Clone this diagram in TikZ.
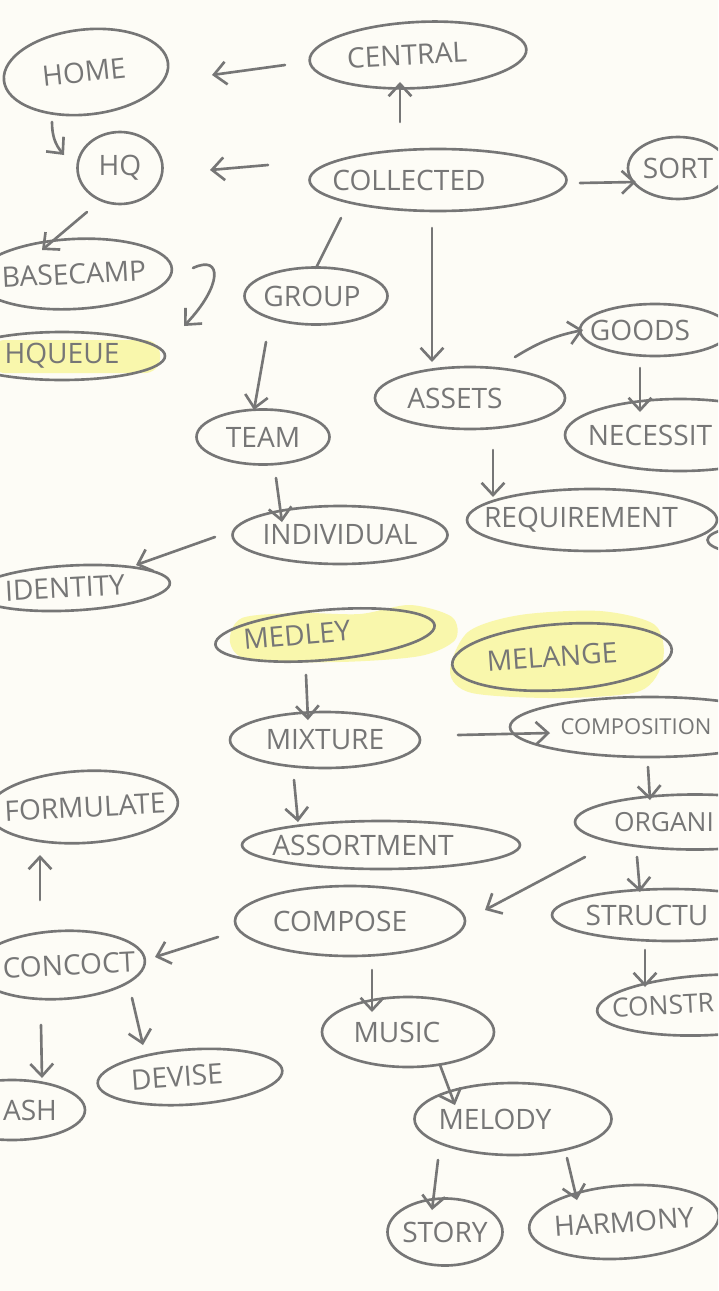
\documentclass[tikz,border=0pt]{standalone}
\usepackage{fontspec}
\setmainfont{Open Sans}
\usepackage{tikz}
\usetikzlibrary{arrows.meta,shapes.geometric}
\definecolor{pen}{RGB}{118,118,118}
\definecolor{paper}{RGB}{253,252,246}
\definecolor{marker}{RGB}{249,247,172}
\tikzset{
	bubble/.style={draw=pen, ellipse, line width=1.5pt, inner sep=0pt},
	word/.style={text=pen, inner sep=0pt, font=\fontsize{16}{16}\selectfont},
	sz/.style 2 args={minimum width=#1*0.02cm, minimum height=#2*0.02cm},
	arr/.style={draw=pen, line width=1.5pt, line cap=round, -{Straight Barb[length=7pt,width=13pt]}},
	tie/.style={draw=pen, line width=1.5pt, line cap=round},
}

\begin{document}
\begin{tikzpicture}[x=0.02cm, y=-0.02cm]
			\useasboundingbox (0,0) rectangle (718,1291);
			\fill[paper] (0,0) rectangle (718,1291);
			\clip (0,0) rectangle (718,1291);
			\fill[marker, rounded corners=0.3cm] (-10,340) rectangle (160,373);
			\fill[marker] plot[smooth cycle] coordinates {(230,642) (242,618) (300,613) (360,614) (410,605) (452,617) (455,640) (420,656) (340,662) (250,660)};
			\fill[marker] plot[smooth cycle] coordinates {(450,672) (468,632) (520,615) (600,611) (655,625) (663,660) (640,691) (560,698) (472,693)};
			\foreach \name/\x/\y/\w/\h/\r/\dx/\txt in {
				home/86/72/165/85/6/-2/HOME,
				central/418/55/217/66/3/-11/CENTRAL,
				hq/120/168/85/72/0/0/HQ,
				collected/438/180/257/62/0/-29/COLLECTED,
				sort/678/168/100/62/0/0/SORT,
				basecamp/74/274/196/70/3/0/BASECAMP,
				group/316/296/143/57/0/-4/GROUP,
				hqueue/62/356/206/48/0/0/HQUEUE,
				goods/655/330/150/52/0/-15/GOODS,
				assets/470/398/190/62/0/-15/ASSETS,
				necessity/680/435/230/72/0/-30/NECESSIT,
				team/263/437/133/55/0/0/TEAM,
				requirement/592/520/250/62/0/-11/REQUIREMENT,
				individual/340/535/215/58/0/0/INDIVIDUAL,
				identity/72/588/196/45/3/-7/IDENTITY,
				medley/325/635/220/50/5/-28/MEDLEY,
				melange/562/657/220/66/4/-10/MELANGE,
				mixture/325/740/190/56/0/0/MIXTURE,
				composition/650/727/280/60/0/-14/{\fontsize{12.5}{12.5}\selectfont COMPOSITION},
				formulate/83/807/190/72/3/2/FORMULATE,
				assortment/381/845/278/48/0/-18/ASSORTMENT,
				organize/695/822/240/55/0/-31/{\fontsize{15}{15}\selectfont ORGANI},
				compose/350/921/230/70/0/-10/COMPOSE,
				structure/671/915/238/52/0/-24/STRUCTU,
				concoct/60/965/170/68/3/9/CONCOCT,
				construct/711/1005/228/60/3/-48/{\fontsize{15}{15}\selectfont CONSTR},
				music/408/1032/172/70/0/-11/MUSIC,
				devise/190/1077/185/55/4/-13/DEVISE,
				mash/12/1110/146/60/0/18/ASH,
				melody/513/1119/197/72/0/-18/MELODY,
				story/445/1232/115/67/0/0/STORY,
				harmony/624/1222/190/73/4/0/HARMONY} {
				\node[bubble, sz={\w}{\h}, rotate=\r] (\name) at (\x,\y) {};
				\node[word, rotate=\r] (\name-t) at ([shift={(\dx,0)}]\name.center) {\txt};
			}
			\node[bubble, sz={115}{30}] (edge) at (765,540) {};
			\draw[arr] ([shift={(-133,10)}]central.center) -- ([shift={(126,3)}]home.center);
			\draw[arr] ([shift={(-38,-58)}]collected.center) -- ([shift={(-18,27)}]central.center);
			\draw[arr] ([shift={(-170,-15)}]collected.center) -- ([shift={(90,2)}]hq.center);
			\draw[arr] ([shift={(142,3)}]collected.center) -- ([shift={(-42,14)}]sort.center);
			\draw[arr] ([shift={(-34,50)}]home.center) to[bend right=20] ([shift={(-56,-13)}]hq.center);
			\draw[arr] ([shift={(-33,44)}]hq.center) -- ([shift={(-32,-24)}]basecamp.center);
			\draw[arr] ([shift={(119,-6)}]basecamp.center) .. controls +(30,-14) and +(38,-40) .. ([shift={(122,-30)}]hqueue.center);
			\draw[tie] ([shift={(-97,38)}]collected.center) -- ([shift={(0,-28)}]group.center);
			\draw[arr] ([shift={(-50,46)}]group.center) -- ([shift={(-9,-27)}]team.center);
			\draw[arr] ([shift={(-6,48)}]collected.center) -- ([shift={(-38,-36)}]assets.center);
			\draw[arr] ([shift={(45,-41)}]assets.center) to[bend left=10] ([shift={(-72,0)}]goods.center);
			\draw[arr] ([shift={(-15,38)}]goods.center) -- ([shift={(-40,-23)}]necessity.center);
			\draw[arr] ([shift={(23,52)}]assets.center) -- ([shift={(-99,-23)}]requirement.center);
			\draw[arr] ([shift={(13,41)}]team.center) -- ([shift={(-58,-13)}]individual.center);
			\draw[arr] ([shift={(-125,2)}]individual.center) -- ([shift={(64,-23)}]identity.center);
			\draw[arr] ([shift={(-19,40)}]medley.center) -- ([shift={(-17,-20)}]mixture.center);
			\draw[arr] ([shift={(133,-5)}]mixture.center) -- ([shift={(-100,6)}]composition.center);
			\draw[arr] ([shift={(-31,40)}]mixture.center) -- ([shift={(-83,-23)}]assortment.center);
			\draw[arr] ([shift={(-2,40)}]composition.center) -- ([shift={(-45,-22)}]organize.center);
			\draw[arr] ([shift={(-110,35)}]organize.center) -- ([shift={(135,-11)}]compose.center);
			\draw[arr] ([shift={(-58,35)}]organize.center) -- ([shift={(-31,-23)}]structure.center);
			\draw[arr] ([shift={(-26,35)}]structure.center) -- ([shift={(-66,-18)}]construct.center);
			\draw[arr] ([shift={(-132,16)}]compose.center) -- ([shift={(95,-8)}]concoct.center);
			\draw[arr] ([shift={(-20,-65)}]concoct.center) -- ([shift={(-43,48)}]formulate.center);
			\draw[arr] ([shift={(-19,60)}]concoct.center) -- ([shift={(30,-32)}]mash.center);
			\draw[arr] ([shift={(72,33)}]concoct.center) -- ([shift={(-47,-32)}]devise.center);
			\draw[arr] ([shift={(22,49)}]compose.center) -- ([shift={(-36,-20)}]music.center);
			\draw[arr] ([shift={(32,33)}]music.center) -- ([shift={(-58,-14)}]melody.center);
			\draw[arr] ([shift={(-75,41)}]melody.center) -- ([shift={(-13,-22)}]story.center);
			\draw[arr] ([shift={(54,39)}]melody.center) -- ([shift={(-47,-22)}]harmony.center);
		\end{tikzpicture}
\end{document}
